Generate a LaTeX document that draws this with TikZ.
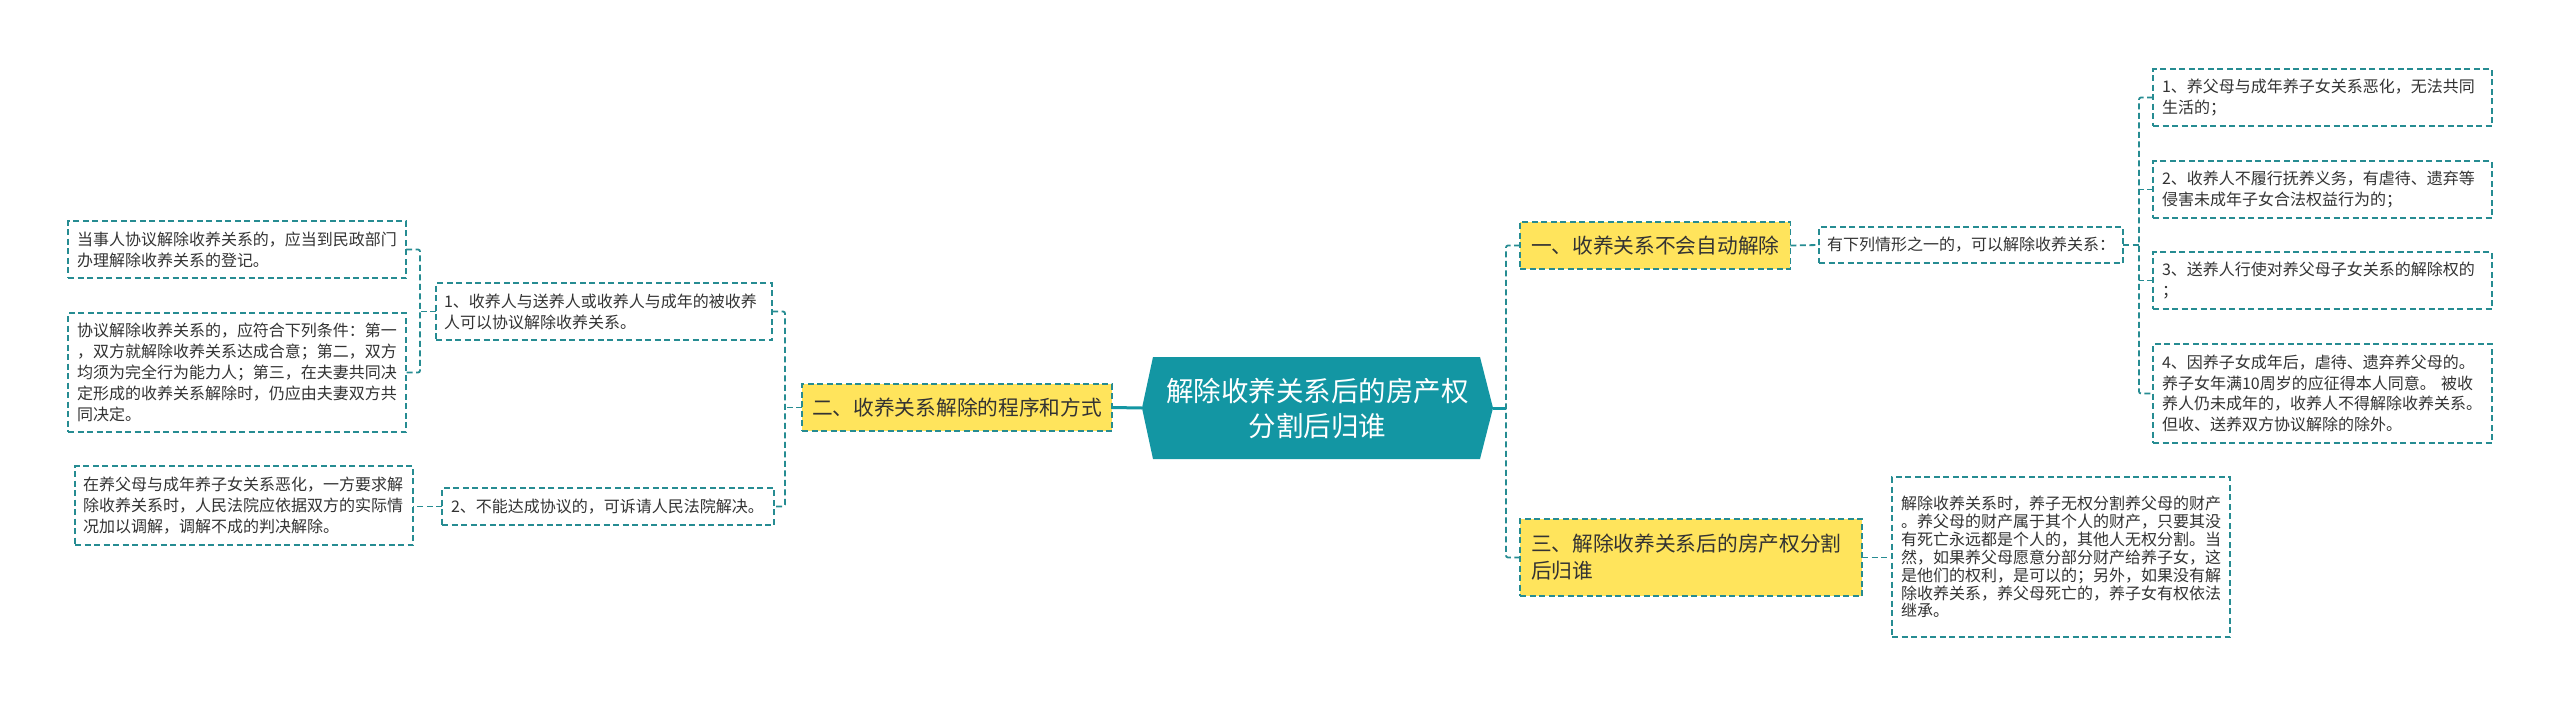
\documentclass[tikz,border=0pt]{standalone}
\usepackage{fontspec}
\setmainfont{Noto Sans CJK SC}
\usetikzlibrary{calc,backgrounds}
\definecolor{bord}{RGB}{38,140,146}
\definecolor{hexfill}{RGB}{19,150,163}
\definecolor{ylw}{RGB}{255,228,92}
\definecolor{txt}{RGB}{51,51,51}
\tikzset{
  boxbase/.style={draw=bord, line width=1.6pt, dash pattern=on 6pt off 3.5pt, anchor=north west, align=left, text=txt, inner ysep=0pt, outer sep=0pt},
  leafbox/.style={boxbase, fill=white, font=\fontsize{16}{21}\selectfont, inner xsep=9pt},
  lvlbox/.style={boxbase, fill=ylw, font=\fontsize{20.7}{27}\selectfont, inner xsep=11pt},
  conn/.style={draw=bord, line width=1.8pt, dash pattern=on 6pt off 3.5pt, rounded corners=2pt},
  solidconn/.style={draw=hexfill, line width=3pt}
}
\begin{document}
\begin{tikzpicture}[x=1pt,y=-1pt]
\useasboundingbox (0,0) rectangle (2560,707);

% centre
\node[minimum width=351pt, minimum height=102pt, inner sep=0pt, outer sep=0pt, align=center, text=white, font=\fontsize{27.5}{35}\selectfont] (c) at (1317.5,408) {解除收养关系后的房产权\\分割后归谁};
\begin{scope}[on background layer]
\fill[white] (0,0) rectangle (2560,707);
\fill[hexfill] (c.west) -- ($(c.north west)+(11,0)$) -- ($(c.north east)+(-13,0)$) -- (c.east) -- ($(c.south east)+(-13,0)$) -- ($(c.south west)+(11,0)$) -- cycle;
\end{scope}

% left side
\node[lvlbox, minimum width=310pt, minimum height=47pt, inner xsep=10pt] (n2) at (802,384) {二、收养关系解除的程序和方式};
\node[leafbox, text width=320pt, minimum height=57pt, inner xsep=8pt] (a1) at (436,283) {1、收养人与送养人或收养人与成年的被收养\\人可以协议解除收养关系。};
\node[leafbox, text width=314pt, minimum height=37pt] (a2) at (442,488) {2、不能达成协议的，可诉请人民法院解决。};
\node[leafbox, text width=320pt, minimum height=57pt] (l1) at (68,221) {当事人协议解除收养关系的，应当到民政部门\\办理解除收养关系的登记。};
\node[leafbox, text width=320pt, minimum height=119pt] (l2) at (68,313) {协议解除收养关系的，应符合下列条件：第一\\，双方就解除收养关系达成合意；第二，双方\\均须为完全行为能力人；第三，在夫妻共同决\\定形成的收养关系解除时，仍应由夫妻双方共\\同决定。};
\node[leafbox, text width=322pt, minimum height=79pt, inner xsep=8pt] (l3) at (75,466) {在养父母与成年养子女关系恶化，一方要求解\\除收养关系时，人民法院应依据双方的实际情\\况加以调解，调解不成的判决解除。};

% right side
\node[lvlbox, minimum width=270pt, minimum height=47pt] (r1) at (1520,222) {一、收养关系不会自动解除};
\node[lvlbox, text width=320pt, minimum height=77pt] (r3) at (1520,519) {三、解除收养关系后的房产权分割\\后归谁};
\node[leafbox, minimum width=304pt, minimum height=36pt, inner xsep=8pt] (q) at (1819,227) {有下列情形之一的，可以解除收养关系：};
\node[leafbox, text width=321pt, minimum height=57pt] (b1) at (2153,69) {1、养父母与成年养子女关系恶化，无法共同\\生活的；};
\node[leafbox, text width=321pt, minimum height=57pt] (b2) at (2153,161) {2、收养人不履行抚养义务，有虐待、遗弃等\\侵害未成年子女合法权益行为的；};
\node[leafbox, text width=321pt, minimum height=57pt] (b3) at (2153,252) {3、送养人行使对养父母子女关系的解除权的\\；};
\node[leafbox, text width=321pt, minimum height=99pt, font=\fontsize{16}{20.7}\selectfont] (b4) at (2153,344) {4、因养子女成年后，虐待、遗弃养父母的。\\养子女年满10周岁的应征得本人同意。~被收\\养人仍未成年的，收养人不得解除收养关系。\\但收、送养双方协议解除的除外。};
\node[leafbox, text width=320pt, minimum height=160pt, font=\fontsize{16}{17.9}\selectfont] (d) at (1892,477) {解除收养关系时，养子无权分割养父母的财产\\。养父母的财产属于其个人的财产，只要其没\\有死亡永远都是个人的，其他人无权分割。当\\然，如果养父母愿意分部分财产给养子女，这\\是他们的权利，是可以的；另外，如果没有解\\除收养关系，养父母死亡的，养子女有权依法\\继承。};

% connectors: centre
\draw[solidconn] (c.west) -- (n2.east);
\coordinate (rj) at ($(c.east)+(13,0)$);
\draw[solidconn] (c.east) -- (rj);
\draw[conn] (r1.west) -- ++(-14,0) |- (r3.west);

% left tree
\draw[conn] (n2.west) -- ++(-15,0);
\draw[conn] (a1.east) -- ++(13,0) |- (a2.east);
\draw[conn] (a1.west) -- ++(-16,0);
\draw[conn] (l1.east) -- ++(14,0) |- (l2.east);
\draw[conn] (a2.west) -- (a2.west -| l3.east);

% right tree
\draw[conn] (r1.east) -- (q.west);
\draw[conn] (q.east) -- ++(16,0);
\draw[conn] (b1.west) -- ++(-14,0) |- (b4.west);
\draw[conn] (b2.west) -- ++(-14,0);
\draw[conn] (b3.west) -- ++(-14,0);
\draw[conn] (r3.east) -- (r3.east -| d.west);
\end{tikzpicture}
\end{document}
